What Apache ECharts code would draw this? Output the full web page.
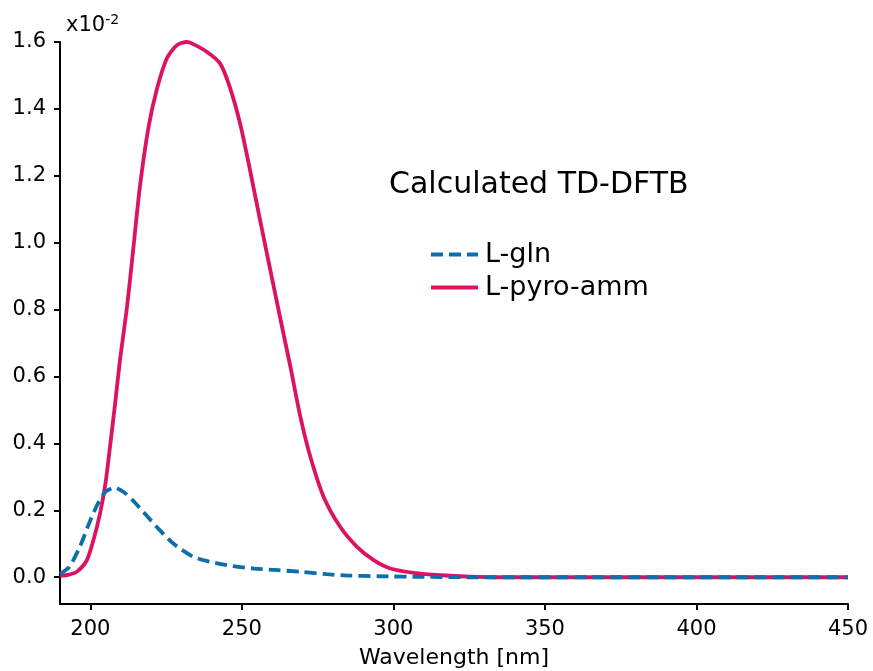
<!DOCTYPE html>
<html lang="en">
<head>
  <meta charset="UTF-8">
  <title>Calculated TD-DFTB</title>
  <script src="https://cdn.jsdelivr.net/npm/echarts@6/dist/echarts.min.js"></script>
  <style>
    * { margin: 0; padding: 0; }
    body { background: #fff; }
    #chart { width: 873px; height: 671px; }
  </style>
</head>
<body>
  <div id="chart"></div>
  <script>
    // L-gln (dashed blue)
    const glnX = [190, 193, 196.5, 200, 202.5, 205, 208, 211, 214, 218.5, 223, 227.5, 234, 239.5, 247, 254, 262, 270, 278, 285, 295, 310, 325, 350, 400, 450];
    const glnY = [0.01, 0.03, 0.09, 0.17, 0.22, 0.255, 0.268, 0.255, 0.23, 0.185, 0.14, 0.10, 0.061, 0.046, 0.033, 0.026, 0.021, 0.016, 0.009, 0.005, 0.003, 0.001, 0, 0, 0, 0];

    // L-pyro-amm (solid pink)
    const pyroX = [190, 193, 195.5, 198.8, 201, 203.2, 205, 206.5, 208.2, 209.8, 212, 213.7, 216.4, 219.2, 222, 225.2, 228.5, 231.8, 233.5, 238.4, 242.8, 246, 249.4, 252.7, 256, 259.4, 263, 266, 269.3, 272.6, 277, 282.5, 288, 293.5, 299, 306.7, 315.5, 325, 335, 350, 400, 450];
    const pyroY = [0.004, 0.008, 0.016, 0.05, 0.11, 0.19, 0.28, 0.39, 0.52, 0.65, 0.80, 0.94, 1.17, 1.345, 1.46, 1.55, 1.59, 1.60, 1.596, 1.571, 1.536, 1.466, 1.357, 1.217, 1.068, 0.918, 0.76, 0.63, 0.48, 0.36, 0.24, 0.15, 0.091, 0.051, 0.026, 0.013, 0.006, 0.002, 0, 0, 0, 0];

    const xTicks = [200, 250, 300, 350, 400, 450];
    const yTicks = [0, 0.2, 0.4, 0.6, 0.8, 1.0, 1.2, 1.4, 1.6];

    const zip = (xs, ys) => xs.map((x, i) => [x, ys[i]]);

    const font = 'DejaVu Sans';
    const chart = echarts.init(document.getElementById('chart'));

    chart.setOption({
      animation: false,
      textStyle: { fontFamily: font },
      title: {
        text: 'Calculated TD-DFTB',
        left: 384,
        top: 165,
        textStyle: { fontFamily: font, fontSize: 30, fontWeight: 'normal', color: '#000' }
      },
      legend: {
        orient: 'vertical',
        left: 424,
        top: 236,
        itemWidth: 47,
        itemHeight: 14,
        itemGap: 6,
        itemStyle: { color: 'transparent', borderWidth: 0 },
        lineStyle: { width: 4 },
        textStyle: { fontFamily: font, fontSize: 27, color: '#000', padding: [0, 0, 0, 2] },
        data: ['L-gln', 'L-pyro-amm']
      },
      graphic: [{
        type: 'text',
        left: 66,
        top: 13,
        style: {
          text: '{a|x10}{b|-2}',
          rich: {
            a: { fontFamily: font, fontSize: 21, fill: '#000' },
            b: { fontFamily: font, fontSize: 14, fill: '#000', verticalAlign: 'top', padding: [0, 0, 12, 0] }
          }
        }
      }],
      grid: { left: 60, right: 25, top: 42, bottom: 67, containLabel: false, outerBoundsMode: 'none' },
      xAxis: {
        type: 'value',
        min: 190,
        max: 450,
        name: 'Wavelength [nm]',
        nameLocation: 'middle',
        nameGap: 43,
        nameTextStyle: { fontFamily: font, fontSize: 22, color: '#000' },
        splitLine: { show: false },
        axisLine: { show: true, onZero: false, lineStyle: { color: '#000', width: 2 } },
        axisTick: { show: true, customValues: xTicks, length: 6, lineStyle: { color: '#000', width: 2 } },
        axisLabel: { customValues: xTicks, fontFamily: font, fontSize: 21, color: '#000', margin: 15 }
      },
      yAxis: {
        type: 'value',
        min: -0.08,
        max: 1.6,
        splitLine: { show: false },
        axisLine: { show: true, onZero: false, lineStyle: { color: '#000', width: 2 } },
        axisTick: { show: true, customValues: yTicks, length: 6, lineStyle: { color: '#000', width: 2 } },
        axisLabel: {
          customValues: yTicks,
          fontFamily: font,
          fontSize: 21,
          color: '#000',
          margin: 14,
          formatter: v => v.toFixed(1)
        }
      },
      series: [
        {
          name: 'L-gln',
          type: 'line',
          data: zip(glnX, glnY),
          symbol: 'none',
          smooth: 0.25,
          z: 3,
          lineStyle: { color: '#0b6fad', width: 3.8, type: [12, 6] },
          itemStyle: { color: '#0b6fad' }
        },
        {
          name: 'L-pyro-amm',
          type: 'line',
          data: zip(pyroX, pyroY),
          symbol: 'none',
          smooth: 0.25,
          z: 2,
          lineStyle: { color: '#db1360', width: 3.8 },
          itemStyle: { color: '#db1360' }
        }
      ]
    });
  </script>
</body>
</html>
